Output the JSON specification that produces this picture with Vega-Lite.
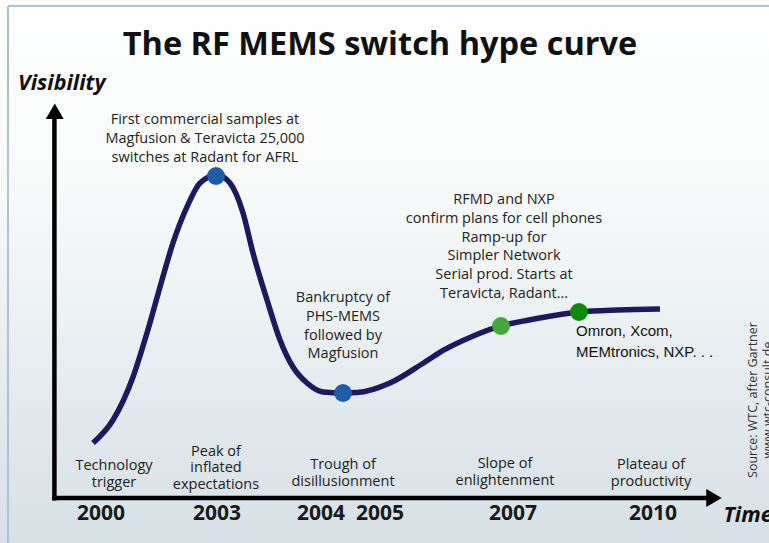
{
  "$schema": "https://vega.github.io/schema/vega-lite/v6.json",
  "width": 769,
  "height": 543,
  "autosize": {"type": "none"},
  "padding": 0,
  "background": "#ffffff",
  "config": {"view": {"stroke": null}},
  "encoding": {
    "x": {"field": "t", "type": "quantitative", "scale": {"domain": [-8.3, 109], "nice": false, "zero": false}, "axis": null},
    "y": {"field": "v", "type": "quantitative", "scale": {"domain": [-11.3, 125.1], "nice": false, "zero": false}, "axis": null}
  },
  "layer": [
    {
      "data": {"values": [{"t": -8.3, "t2": 109, "v": -11.3, "v2": 125.1}]},
      "mark": {"type": "rect", "color": {"gradient": "linear", "x1": 0, "y1": 0, "x2": 0, "y2": 1, "stops": [{"offset": 0, "color": "#ffffff"}, {"offset": 0.35, "color": "#f8fafa"}, {"offset": 1, "color": "#d6e0e6"}]}},
      "encoding": {"x2": {"field": "t2"}, "y2": {"field": "v2"}}
    },
    {
      "data": {"values": [{"t": -7.08, "t2": -7.08, "v": -11.3, "v2": 123.6}, {"t": -7.08, "t2": 109, "v": 123.6, "v2": 123.6}]},
      "mark": {"type": "rule", "color": "#a6c6d6", "strokeWidth": 2},
      "encoding": {"x2": {"field": "t2"}, "y2": {"field": "v2"}}
    },
    {
      "data": {"values": [{"t": 0, "t2": 0, "v": -0.6, "v2": 97.1}, {"t": -0.3, "t2": 100.6, "v": 0, "v2": 0}]},
      "mark": {"type": "rule", "color": "#000000", "strokeWidth": 4.5},
      "encoding": {"x2": {"field": "t2"}, "y2": {"field": "v2"}}
    },
    {
      "data": {"values": [{"t": 0.05, "v": 97.14, "dir": "up"}, {"t": 100.61, "v": 0, "dir": "right"}]},
      "mark": {"type": "point", "filled": true, "color": "#000000", "opacity": 1},
      "encoding": {
        "shape": {"field": "dir", "type": "nominal", "scale": {"domain": ["up", "right"], "range": ["triangle-up", "triangle-right"]}, "legend": null},
        "size": {"value": 320}
      }
    },
    {
      "data": {"values": [
        {"t": 5.89, "v": 13.82}, {"t": 8.94, "v": 19.6}, {"t": 11.99, "v": 30.4}, {"t": 14.12, "v": 41.46},
        {"t": 16.11, "v": 53.02}, {"t": 18.09, "v": 64.07}, {"t": 20.22, "v": 73.12}, {"t": 22.21, "v": 79.15},
        {"t": 24.8, "v": 81.16}, {"t": 26.78, "v": 79.15}, {"t": 28.77, "v": 71.61}, {"t": 30.29, "v": 61.56},
        {"t": 32.43, "v": 49.75}, {"t": 34.41, "v": 39.7}, {"t": 36.39, "v": 32.91}, {"t": 38.53, "v": 28.89},
        {"t": 40.97, "v": 26.63}, {"t": 44.02, "v": 26.38}, {"t": 46.16, "v": 26.48}, {"t": 51.19, "v": 28.89},
        {"t": 56.53, "v": 34.17}, {"t": 59.43, "v": 37.19}, {"t": 63.55, "v": 40.45}, {"t": 68.12, "v": 43.22},
        {"t": 72.39, "v": 44.72}, {"t": 80.02, "v": 46.73}, {"t": 85.97, "v": 47.24}, {"t": 92.37, "v": 47.49}
      ]},
      "mark": {"type": "line", "interpolate": "monotone", "color": "#1c1a5c", "strokeWidth": 5.5}
    },
    {
      "data": {"values": [
        {"t": 24.65, "v": 80.9, "k": "peak"}, {"t": 44.02, "v": 26.38, "k": "trough"},
        {"t": 68.12, "v": 43.22, "k": "slope"}, {"t": 80.02, "v": 46.73, "k": "plateau"}
      ]},
      "mark": {"type": "circle", "opacity": 1, "size": 320},
      "encoding": {
        "color": {"field": "k", "type": "nominal", "scale": {"domain": ["peak", "trough", "slope", "plateau"], "range": ["#1f5ca6", "#1e5ea8", "#42a83c", "#0b8a0b"]}, "legend": null}
      }
    },
    {
      "data": {"values": [{"t": 49.66, "v": 113.8, "label": "The RF MEMS switch hype curve"}]},
      "mark": {"type": "text", "font": "Open Sans", "fontSize": 32.5, "fontWeight": "bold", "color": "#111111", "align": "center", "baseline": "middle"},
      "encoding": {"text": {"field": "label"}}
    },
    {
      "data": {"values": [{"t": -5.55, "v": 104.02, "label": "Visibility"}, {"t": 102.05, "v": -4.52, "label": "Time"}]},
      "mark": {"type": "text", "font": "Open Sans", "fontSize": 21.5, "fontWeight": "bold", "fontStyle": "italic", "color": "#111111", "align": "left", "baseline": "middle"},
      "encoding": {"text": {"field": "label"}}
    },
    {
      "data": {"values": [
        {"t": 7.11, "v": -4.02, "label": "2000"}, {"t": 24.8, "v": -4.02, "label": "2003"},
        {"t": 40.66, "v": -4.02, "label": "2004"}, {"t": 49.66, "v": -4.02, "label": "2005"},
        {"t": 69.95, "v": -4.02, "label": "2007"}, {"t": 91.31, "v": -4.02, "label": "2010"}
      ]},
      "mark": {"type": "text", "font": "Open Sans", "fontSize": 21, "fontWeight": "bold", "color": "#1a1a1a", "align": "center", "baseline": "middle"},
      "encoding": {"text": {"field": "label"}}
    },
    {
      "data": {"values": [
        {"t": 9.09, "v": 8.04, "label": "Technology\ntrigger"},
        {"t": 24.65, "v": 11.56, "label": "Peak of\ninflated\nexpectations"},
        {"t": 44.02, "v": 8.29, "label": "Trough of\ndisillusionment"},
        {"t": 68.73, "v": 8.54, "label": "Slope of\nenlightenment"},
        {"t": 91.0, "v": 8.29, "label": "Plateau of\nproductivity"}
      ]},
      "mark": {"type": "text", "font": "Open Sans", "fontSize": 14.5, "lineHeight": 16.5, "lineBreak": "\n", "color": "#222222", "align": "center", "baseline": "middle"},
      "encoding": {"text": {"field": "label"}}
    },
    {
      "data": {"values": [
        {"t": 22.97, "v": 94.97, "label": "First commercial samples at\nMagfusion & Teravicta 25,000\nswitches at Radant for AFRL"},
        {"t": 44.02, "v": 50.25, "label": "Bankruptcy of\nPHS-MEMS\nfollowed by\nMagfusion"},
        {"t": 68.58, "v": 74.87, "label": "RFMD and NXP\nconfirm plans  for cell phones\nRamp-up for\nSimpler Network\nSerial prod. Starts at\nTeravicta, Radant…"}
      ]},
      "mark": {"type": "text", "font": "Open Sans", "fontSize": 14.5, "lineHeight": 18.8, "lineBreak": "\n", "color": "#222222", "align": "center", "baseline": "middle"},
      "encoding": {"text": {"field": "label"}}
    },
    {
      "data": {"values": [{"t": 79.56, "v": 41.96, "label": "Omron, Xcom,\nMEMtronics, NXP. . ."}]},
      "mark": {"type": "text", "font": "Liberation Sans", "fontSize": 15, "lineHeight": 21, "lineBreak": "\n", "color": "#111111", "align": "left", "baseline": "middle"},
      "encoding": {"text": {"field": "label"}}
    },
    {
      "data": {"values": [{"t": 106.56, "v": 24.62, "label": "Source: WTC,  after Gartner\nwww.wtc-consult.de"}]},
      "mark": {"type": "text", "font": "Open Sans", "fontSize": 12.5, "lineHeight": 15, "lineBreak": "\n", "angle": 270, "color": "#333333", "align": "center", "baseline": "middle"},
      "encoding": {"text": {"field": "label"}}
    }
  ]
}
